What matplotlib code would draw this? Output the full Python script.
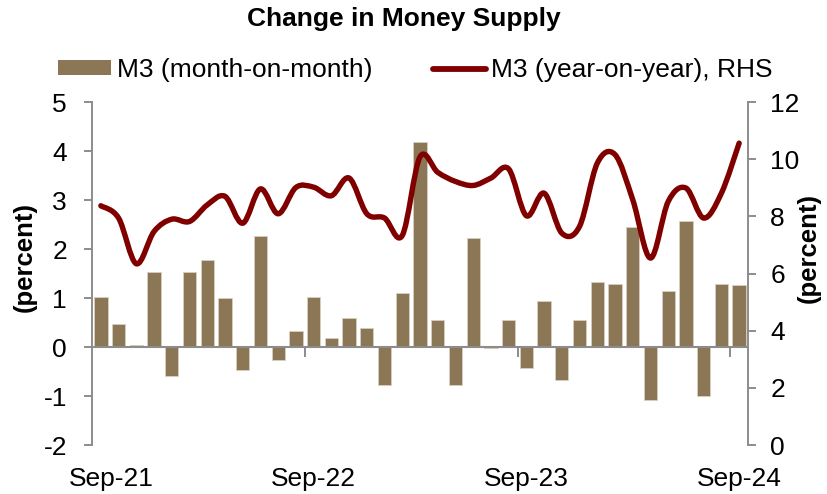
import matplotlib
matplotlib.use("Agg")
import matplotlib.pyplot as plt
import matplotlib.transforms as mtransforms
from matplotlib.path import Path
from matplotlib.patches import PathPatch
from matplotlib.lines import Line2D
from matplotlib.patches import Patch

plt.rcParams['font.family'] = ['Liberation Sans', 'DejaVu Sans']
plt.rcParams['axes.unicode_minus'] = False

# monthly data, Sep-21 .. Sep-24
months = ['Sep-21', 'Oct-21', 'Nov-21', 'Dec-21', 'Jan-22', 'Feb-22', 'Mar-22', 'Apr-22',
          'May-22', 'Jun-22', 'Jul-22', 'Aug-22', 'Sep-22', 'Oct-22', 'Nov-22', 'Dec-22',
          'Jan-23', 'Feb-23', 'Mar-23', 'Apr-23', 'May-23', 'Jun-23', 'Jul-23', 'Aug-23',
          'Sep-23', 'Oct-23', 'Nov-23', 'Dec-23', 'Jan-24', 'Feb-24', 'Mar-24', 'Apr-24',
          'May-24', 'Jun-24', 'Jul-24', 'Aug-24', 'Sep-24']

m3_mom = [1.03, 0.46, 0.05, 1.53, -0.60, 1.54, 1.78, 1.01, -0.46, 2.26, -0.26, 0.33,
          1.03, 0.19, 0.60, 0.39, -0.78, 1.10, 4.19, 0.55, -0.77, 2.22, -0.03, 0.55,
          -0.42, 0.94, -0.67, 0.55, 1.32, 1.29, 2.45, -1.08, 1.15, 2.58, -0.99, 1.29, 1.27]

m3_yoy = [8.37, 7.94, 6.34, 7.47, 7.90, 7.82, 8.40, 8.70, 7.76, 8.96, 8.09, 9.01,
          9.02, 8.72, 9.34, 8.09, 7.94, 7.33, 10.08, 9.54, 9.22, 9.08, 9.34, 9.66,
          8.02, 8.81, 7.41, 7.65, 9.86, 10.16, 8.58, 6.54, 8.52, 8.99, 7.94, 8.81, 10.56]

tick_labels = ['Sep-21', 'Sep-22', 'Sep-23', 'Sep-24']

bar_color = '#8B7755'
line_color = '#800000'
grey = '#8C8C8C'
fs = 19

x = list(range(len(months)))

fig = plt.figure(figsize=(8.27, 4.94), dpi=100)
ax = fig.add_axes([92 / 827, 1 - 445 / 494, 656 / 827, 343 / 494])
ax2 = ax.twinx()

# bars on the left axis
ax.bar(x, m3_mom, width=0.75, color=bar_color, edgecolor='#D9CFC0', linewidth=0.6, zorder=2)
ax.axhline(0, color=grey, lw=1.5, zorder=3)
ax.set_xlim(-0.5, len(months) - 0.5)
ax.set_ylim(-2, 5)
ax.set_yticks(range(-2, 6))

# smooth line (Excel style bezier) on the right axis
verts = [(x[0], m3_yoy[0])]
codes = [Path.MOVETO]
n = len(x)
for i in range(n - 1):
    p0 = (x[max(i - 1, 0)], m3_yoy[max(i - 1, 0)])
    p1 = (x[i], m3_yoy[i])
    p2 = (x[i + 1], m3_yoy[i + 1])
    p3 = (x[min(i + 2, n - 1)], m3_yoy[min(i + 2, n - 1)])
    c1 = (p1[0] + (p2[0] - p0[0]) / 6, p1[1] + (p2[1] - p0[1]) / 6)
    c2 = (p2[0] - (p3[0] - p1[0]) / 6, p2[1] - (p3[1] - p1[1]) / 6)
    verts += [c1, c2, p2]
    codes += [Path.CURVE4] * 3
ax2.add_patch(PathPatch(Path(verts, codes), fill=False, edgecolor=line_color,
                        lw=3.9, capstyle='round', joinstyle='round', zorder=4))
ax2.set_ylim(0, 12)
ax2.set_yticks(range(0, 13, 2))

# spines and ticks
for a in (ax, ax2):
    for s in ('top', 'bottom'):
        a.spines[s].set_visible(False)
    a.spines['left'].set_color(grey)
    a.spines['right'].set_color(grey)
    a.spines['left'].set_linewidth(1.4)
    a.spines['right'].set_linewidth(1.4)
ax.spines['right'].set_visible(False)
ax2.spines['left'].set_visible(False)
ax.tick_params(axis='y', length=6, width=1.4, color=grey, labelsize=fs, pad=12)
ax2.tick_params(axis='y', length=6, width=1.4, color=grey, labelsize=fs, pad=10)

# x tick labels every 12 months, tick marks between categories below zero line
ax.set_xticks([x[i] for i in range(0, n, 12)])
ax.set_xticklabels(tick_labels, fontsize=fs)
ax.tick_params(axis='x', length=0, pad=16)
lbls = ax.get_xticklabels()
lbls[0].set_transform(lbls[0].get_transform() +
                      mtransforms.ScaledTranslation(10 / 100, 0, fig.dpi_scale_trans))
for i in range(12, n, 12):
    ax.plot([i - 0.5, i - 0.5], [0, -0.18], color=grey, lw=1.4, zorder=3)

# labels and title
fig.text(25 / 827, 1 - 257 / 494, '(percent)', rotation=90, ha='center', va='center',
         fontsize=fs - 0.5, fontweight='bold')
fig.text(809 / 827, 1 - 248 / 494, '(percent)', rotation=90, ha='center', va='center',
         fontsize=fs - 0.5, fontweight='bold')
fig.text(404 / 827, 1 - 19 / 494, 'Change in Money Supply', ha='center', va='center',
         fontsize=fs, fontweight='bold')

handles = [Patch(facecolor=bar_color, edgecolor='none'),
           Line2D([], [], color=line_color, lw=4.2, solid_capstyle='round')]
fig.legend(handles, ['M3 (month-on-month)', 'M3 (year-on-year), RHS'],
           loc='center left', bbox_to_anchor=(58 / 827, 1 - 70 / 494), ncol=2,
           frameon=False, fontsize=fs, borderpad=0, borderaxespad=0,
           handlelength=2.0, handleheight=0.5, handletextpad=0.22, columnspacing=2.3)

fig.savefig('out.png', dpi=100)
